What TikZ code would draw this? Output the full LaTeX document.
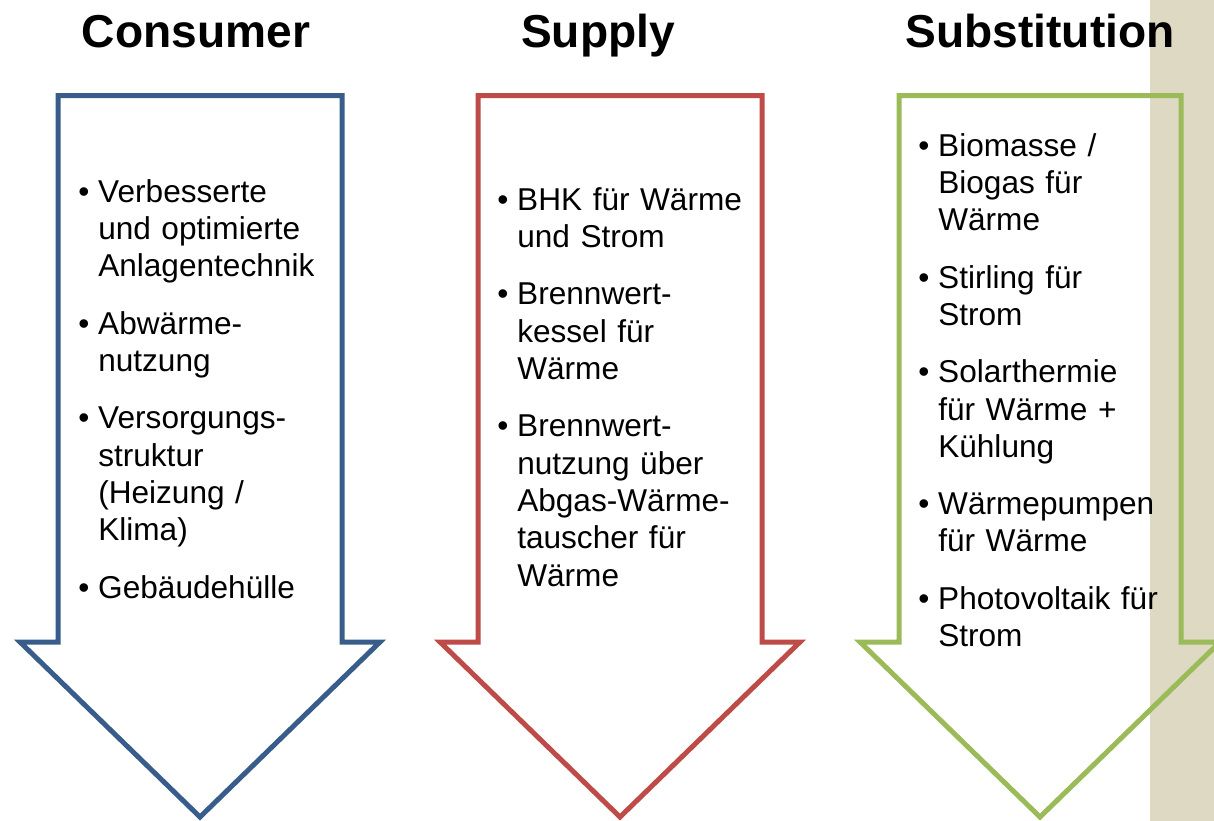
\documentclass[tikz,border=0pt]{standalone}
\usepackage{fontspec}
\setmainfont{Liberation Sans}
\definecolor{consblue}{HTML}{385D8A}
\definecolor{suppred}{HTML}{BE4B48}
\definecolor{substgreen}{HTML}{9BBB59}
\definecolor{sidebeige}{HTML}{DDD9C3}
\newcommand{\itm}{\noindent\hangindent=15pt\hangafter=1\makebox[15pt][l]{\textbullet}}

\begin{document}
\begin{tikzpicture}[x=0.75pt,y=-0.75pt,
    headline/.style={font=\fontsize{34.6pt}{40pt}\selectfont\bfseries,inner sep=0pt,anchor=base},
    bullets/.style={font=\fontsize{23.7pt}{28pt}\selectfont,text width=196pt,align=left,inner sep=0pt,anchor=base west},
    downarrow/.style={line width=3.75pt,line join=miter}]
      \useasboundingbox (0,0) rectangle (1214,821);
      \clip (0,0) rectangle (1214,821);
      \fill[sidebeige] (1150,0) rectangle (1214,821);
      \draw[downarrow,consblue] (58,95.5) -- (342,95.5) -- (342,642) -- (380,642) -- (200,817) -- (20,642) -- (58,642) -- cycle;
      \draw[downarrow,suppred] (478,95.5) -- (762,95.5) -- (762,642) -- (800,642) -- (620,817) -- (440,642) -- (478,642) -- cycle;
      \draw[downarrow,substgreen] (899,95.5) -- (1181,95.5) -- (1181,642) -- (1220,642) -- (1040,817) -- (860,642) -- (899,642) -- cycle;
      \node[headline] (tcons) at (196,47) {Consumer};
      \node[headline] (tsupp) at (598,47) {Supply};
      \node[headline] (tsubst) at (1040,47) {Substitution};
      \node[bullets] (lcons) at (78,202) {\setlength{\parskip}{15pt}%
        \itm Verbesserte\newline und optimierte\newline Anlagentechnik\par
        \itm Abwärme-\newline nutzung\par
        \itm Versorgungs-\newline struktur\newline (Heizung /\newline Klima)\par
        \itm Gebäudehülle\par};
      \node[bullets] (lsupp) at (497,210) {\setlength{\parskip}{15pt}%
        \itm BHK für Wärme\newline und Strom\par
        \itm Brennwert-\newline kessel für\newline Wärme\par
        \itm Brennwert-\newline nutzung über\newline Abgas-Wärme-\newline tauscher für\newline Wärme\par};
      \node[bullets] (lsubst) at (918,156) {\setlength{\parskip}{15pt}%
        \itm Biomasse /\newline Biogas für\newline Wärme\par
        \itm Stirling für\newline Strom\par
        \itm Solarthermie\newline für Wärme +\newline Kühlung\par
        \itm Wärmepumpen\newline für Wärme\par
        \itm Photovoltaik für\newline Strom\par};
\end{tikzpicture}
\end{document}
